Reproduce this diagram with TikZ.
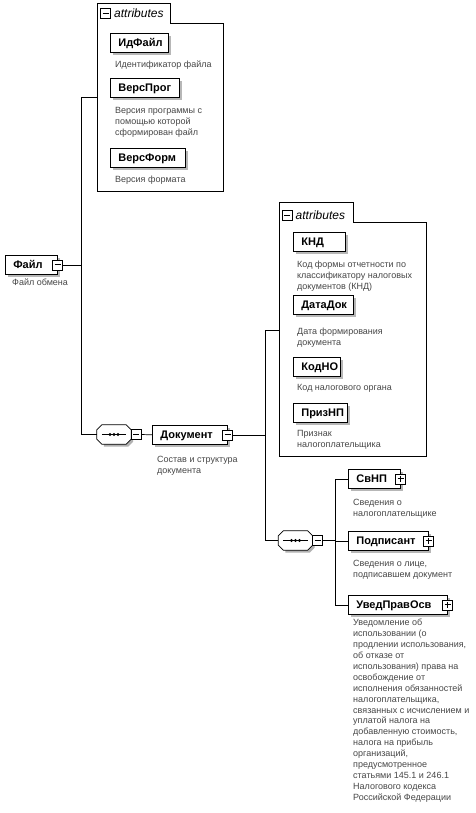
\documentclass[tikz,border=0pt]{standalone}
\usepackage{fontspec}
\setmainfont{Liberation Sans}
\usetikzlibrary{shadows}
\begin{document}
\begin{tikzpicture}[x=1pt,y=-1pt,
  conn/.style={draw=black, line width=0.7pt},
  frame/.style={draw=black, line width=0.7pt},
  boxshadow/.style={drop shadow={shadow xshift=2.5pt, shadow yshift=-2.5pt, fill=black!35, opacity=0.8}},
  elem/.style={draw=black, line width=0.7pt, fill=white, anchor=north west, minimum height=19pt, inner xsep=8pt, inner ysep=0pt, text height=8pt, text depth=0pt, align=left, font=\fontsize{11}{13}\selectfont\bfseries, boxshadow},
  desc/.style={anchor=north west, inner sep=0pt, align=left, text=black!72, font=\fontsize{9}{10.9}\selectfont},
  hdr/.style={anchor=west, inner sep=0pt, font=\fontsize{12}{14}\selectfont\itshape},
  iconbox/.style={draw=black, line width=0.6pt, fill=white, minimum size=10pt, inner sep=0pt},
  minusicon/.style={iconbox, path picture={\draw[line width=0.8pt] ([xshift=2pt]path picture bounding box.west) -- ([xshift=-2pt]path picture bounding box.east);}},
  plusicon/.style={iconbox, path picture={\draw[line width=0.8pt] ([xshift=2pt]path picture bounding box.west) -- ([xshift=-2pt]path picture bounding box.east); \draw[line width=0.8pt] ([yshift=-2pt]path picture bounding box.north) -- ([yshift=2pt]path picture bounding box.south);}},
  seqnode/.style={minimum width=34pt, minimum height=19pt, inner sep=0pt}
]
\useasboundingbox (0,0) rectangle (475,813);
\fill[white] (0,0) rectangle (475,813);

% ---------- attribute frame 1 ----------
\draw[frame] (97,3) -- (170,3) -- (170,23) -- (223,23) -- (223,191) -- (97,191) -- cycle;
\node[minusicon] (h1i) at (105.5,13.5) {};
\node[hdr] (h1t) at (114,13.5) {attributes};

\node[elem, text width=42pt] (idf) at (110,33) {ИдФайл};
\node[desc] (idfd) at (115,61) {Идентификатор файла};
\node[elem, text width=53pt] (vprog) at (110,78) {ВерсПрог};
\node[desc] (vprogd) at (115,107) {Версия программы с\\помощью которой\\сформирован файл};
\node[elem, text width=59pt] (vform) at (110,148) {ВерсФорм};
\node[desc] (vformd) at (115,176) {Версия формата};

% ---------- root ----------
\node[elem, text width=36pt] (fajl) at (5,255) {Файл};
\node[minusicon] (fajli) at (fajl.east) {};
\node[desc] (fajld) at (12,279) {Файл обмена};

% ---------- sequence 1 ----------
\node[seqnode] (seq1) at (114,434.5) {};
\fill[black!30] ([xshift=7pt,yshift=-2.5pt]seq1.north west) -- ([xshift=-3pt,yshift=-2.5pt]seq1.north east) -- ([xshift=2pt,yshift=-7.5pt]seq1.north east) -- ([xshift=2pt,yshift=2.5pt]seq1.south east) -- ([xshift=-3pt,yshift=-2.5pt]seq1.south east) -- ([xshift=7pt,yshift=-2.5pt]seq1.south west) -- cycle;
\draw[frame, fill=white] ([xshift=5pt]seq1.north west) -- ([xshift=-5pt]seq1.north east) -- ([yshift=-5pt]seq1.north east) -- ([yshift=5pt]seq1.south east) -- ([xshift=-5pt]seq1.south east) -- ([xshift=5pt]seq1.south west) -- ([yshift=5pt]seq1.south west) -- ([yshift=-5pt]seq1.north west) -- cycle;
\draw[line width=0.7pt] ([xshift=5pt]seq1.west) -- ([xshift=-5pt]seq1.east);
\foreach \d in {-4,0,4} \fill ([xshift=\d pt]seq1.center) circle[radius=1.7pt];
\node[minusicon] (seq1i) at ([xshift=5pt]seq1.east) {};

% ---------- Документ ----------
\node[elem, text width=59pt] (dok) at (152,425) {Документ};
\node[minusicon] (doki) at (dok.east) {};
\node[desc] (dokd) at (157,456) {Состав и структура\\документа};

% ---------- attribute frame 2 ----------
\draw[frame] (279,202) -- (353,202) -- (353,222) -- (426,222) -- (426,456) -- (279,456) -- cycle;
\node[minusicon] (h2i) at (287,215) {};
\node[hdr] (h2t) at (295.5,215) {attributes};

\node[elem, text width=36pt] (knd) at (293,232) {КНД};
\node[desc] (kndd) at (297,261) {Код формы отчетности по\\классификатору налоговых\\документов (КНД)};
\node[elem, text width=44pt] (ddok) at (293,295) {ДатаДок};
\node[desc] (ddokd) at (297,328) {Дата формирования\\документа};
\node[elem, text width=31pt] (kodno) at (293,357) {КодНО};
\node[desc] (kodnod) at (297,384) {Код налогового органа};
\node[elem, text width=38pt] (priz) at (293,403) {ПризНП};
\node[desc] (prizd) at (297,430) {Признак\\налогоплательщика};

% ---------- sequence 2 ----------
\node[seqnode] (seq2) at (295.5,540.5) {};
\fill[black!30] ([xshift=7pt,yshift=-2.5pt]seq2.north west) -- ([xshift=-3pt,yshift=-2.5pt]seq2.north east) -- ([xshift=2pt,yshift=-7.5pt]seq2.north east) -- ([xshift=2pt,yshift=2.5pt]seq2.south east) -- ([xshift=-3pt,yshift=-2.5pt]seq2.south east) -- ([xshift=7pt,yshift=-2.5pt]seq2.south west) -- cycle;
\draw[frame, fill=white] ([xshift=5pt]seq2.north west) -- ([xshift=-5pt]seq2.north east) -- ([yshift=-5pt]seq2.north east) -- ([yshift=5pt]seq2.south east) -- ([xshift=-5pt]seq2.south east) -- ([xshift=5pt]seq2.south west) -- ([yshift=5pt]seq2.south west) -- ([yshift=-5pt]seq2.north west) -- cycle;
\draw[line width=0.7pt] ([xshift=5pt]seq2.west) -- ([xshift=-5pt]seq2.east);
\foreach \d in {-4,0,4} \fill ([xshift=\d pt]seq2.center) circle[radius=1.7pt];
\node[minusicon] (seq2i) at ([xshift=5pt]seq2.east) {};

% ---------- children ----------
\node[elem, text width=36pt] (svnp) at (348,469) {СвНП};
\node[plusicon] (svnpi) at (svnp.east) {};
\node[desc] (svnpd) at (353,499) {Сведения о\\налогоплательщике};
\node[elem, text width=64pt] (podp) at (348,531) {Подписант};
\node[plusicon] (podpi) at (podp.east) {};
\node[desc] (podpd) at (353,560) {Сведения о лице,\\подписавшем документ};
\node[elem, text width=83pt] (uved) at (348,595) {УведПравОсв};
\node[plusicon] (uvedi) at (uved.east) {};
\node[desc] (uvedd) at (353,619) {Уведомление об\\использовании (о\\продлении использования,\\об отказе от\\использования) права на\\освобождение от\\исполнения обязанностей\\налогоплательщика,\\связанных с исчислением и\\уплатой налога на\\добавленную стоимость,\\налога на прибыль\\организаций,\\предусмотренное\\статьями 145.1 и 246.1\\Налогового кодекса\\Российской Федерации};

% ---------- connectors ----------
\coordinate (a1c) at (97,97);
\coordinate (t1) at (81,97);
\draw[conn] (a1c) -- (t1) |- (seq1.west);
\draw[conn] (fajli.east) -- (fajli.east -| t1);
\draw[conn] (seq1i.east) -- (dok.west);
\coordinate (a2c) at (279,330);
\coordinate (t2) at (265,330);
\draw[conn] (a2c) -- (t2) |- (seq2.west);
\draw[conn] (doki.east) -- (doki.east -| t2);
\coordinate (t3) at (335,540.5);
\draw[conn] (seq2i.east) -- (t3);
\draw[conn] (svnp.west) -- (svnp.west -| t3) |- (uved.west);
\draw[conn] (podp.west) -- (podp.west -| t3);
\end{tikzpicture}
\end{document}
